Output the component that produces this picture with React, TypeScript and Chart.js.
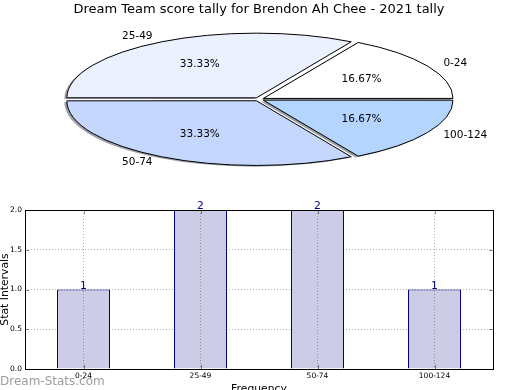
import { useEffect, useRef } from 'react';
import { Chart, registerables } from 'chart.js';

Chart.register(...registerables);

const chartTitle = 'Dream Team score tally for Brendon Ah Chee - 2021 tally';
const categories = ['0-24', '25-49', '50-74', '100-124'];
const counts = [1, 2, 2, 1];
const sliceColors = ['#ffffff', '#ebf1ff', '#c5d7fe', '#b3d5ff'];
const yTickValues = [0, 0.5, 1, 1.5, 2];
const xAxisTitle = 'Frequency';
const yAxisTitle = 'Stat Intervals';
const watermark = 'Dream-Stats.com';

const FONT = "'DejaVu Sans', sans-serif";

// pie drawn as squashed ellipse (matplotlib non-equal aspect)
const PIE_K = 0.341;
const PIE_CY = 99.3;
const PIE_R = 189;
const PIE_OFFSET = 20; // chart.js moves arcs by offset/4
const SHADOW_DX = -2.5;
const SHADOW_DY = 1.3;

// matplotlib draws counter-clockwise from east; chart.js clockwise -> reverse order
const pieLabels = [...categories].reverse();
const pieValues = [...counts].reverse();
const pieColors = [...sliceColors].reverse();

const pieSquash = {
  id: 'pieSquash',
  beforeDatasetsDraw(chart: any) {
    const ctx = chart.ctx;
    const arcs = chart.getDatasetMeta(0).data;
    if (!arcs.length) return;
    const cy0 = arcs[0].y;
    const base = ctx.getTransform();
    const origStroke = CanvasRenderingContext2D.prototype.stroke;
    // shadow pass
    ctx.save();
    ctx.translate(SHADOW_DX, SHADOW_DY);
    ctx.translate(0, PIE_CY);
    ctx.scale(1, PIE_K);
    ctx.translate(0, -cy0);
    ctx.filter = 'brightness(0.3)';
    ctx.globalAlpha = 0.5;
    ctx.stroke = () => {};
    arcs.forEach((a: any) => a.draw(ctx));
    delete ctx.stroke;
    ctx.restore();
    // main pass
    ctx.save();
    ctx.translate(0, PIE_CY);
    ctx.scale(1, PIE_K);
    ctx.translate(0, -cy0);
    ctx.stroke = function (...args: any[]) {
      this.save();
      this.setTransform(base);
      this.shadowColor = 'rgba(0,0,0,0)';
      origStroke.apply(this, args as any);
      this.restore();
    };
  },
  afterDatasetsDraw(chart: any) {
    const ctx = chart.ctx;
    const arcs = chart.getDatasetMeta(0).data;
    if (!arcs.length) return;
    delete ctx.stroke;
    ctx.restore();
    const cy0 = arcs[0].y;
    const total = pieValues.reduce((s, v) => s + v, 0);
    const mapY = (y: number) => PIE_CY + (y - cy0) * PIE_K;
    ctx.save();
    ctx.fillStyle = '#000';
    ctx.font = `10.5px ${FONT}`;
    ctx.textBaseline = 'middle';
    arcs.forEach((a: any, i: number) => {
      const mid = (a.startAngle + a.endAngle) / 2;
      const off = (a.options.offset || 0) / 4;
      const R = a.outerRadius;
      const ex = a.x + Math.cos(mid) * off;
      const ey = a.y + Math.sin(mid) * off;
      // category label
      const lx = ex + Math.cos(mid) * R * 1.1;
      const ly = ey + Math.sin(mid) * R * 1.1;
      ctx.textAlign = Math.cos(mid) > 0 ? 'left' : 'right';
      ctx.fillText(pieLabels[i], lx, mapY(ly));
      // percentage
      const px = ex + Math.cos(mid) * R * 0.6;
      const py = ey + Math.sin(mid) * R * 0.6;
      ctx.textAlign = 'center';
      ctx.fillText(((pieValues[i] / total) * 100).toFixed(2) + '%', px, mapY(py));
    });
    ctx.restore();
  },
};

const barExtras = {
  id: 'barExtras',
  beforeDraw(chart: any) {
    const ctx = chart.ctx;
    ctx.save();
    ctx.font = `12px ${FONT}`;
    ctx.fillStyle = 'rgba(140,140,140,0.85)';
    ctx.textAlign = 'left';
    ctx.textBaseline = 'alphabetic';
    ctx.fillText(watermark, 0, 195);
    ctx.restore();
  },
  afterDatasetsDraw(chart: any) {
    const ctx = chart.ctx;
    const meta = chart.getDatasetMeta(0);
    ctx.save();
    ctx.font = `10.8px ${FONT}`;
    ctx.fillStyle = '#000080';
    ctx.textAlign = 'center';
    ctx.textBaseline = 'alphabetic';
    meta.data.forEach((bar: any, i: number) => {
      ctx.fillText(String(counts[i]), bar.x, bar.y - 1);
    });
    ctx.restore();
  },
  afterDraw(chart: any) {
    const ctx = chart.ctx;
    const { left, right, top, bottom } = chart.chartArea;
    const xs = chart.scales.x;
    const ys = chart.scales.y;
    ctx.save();
    // inward tick marks
    ctx.strokeStyle = 'rgba(0,0,0,0.45)';
    ctx.lineWidth = 1;
    ctx.beginPath();
    ys.ticks.forEach((t: any) => {
      const y = Math.round(ys.getPixelForValue(t.value)) + 0.5;
      ctx.moveTo(left, y);
      ctx.lineTo(left + 4, y);
      ctx.moveTo(right - 4, y);
      ctx.lineTo(right, y);
    });
    xs.ticks.forEach((_t: any, i: number) => {
      const x = Math.round(xs.getPixelForTick(i)) + 0.5;
      ctx.moveTo(x, bottom);
      ctx.lineTo(x, bottom - 4);
      ctx.moveTo(x, top);
      ctx.lineTo(x, top + 4);
    });
    ctx.stroke();
    // frame
    ctx.strokeStyle = '#000';
    ctx.strokeRect(left + 0.5, top + 0.5, right - left, bottom - top);
    // axis titles
    ctx.fillStyle = '#000';
    ctx.font = `10.8px ${FONT}`;
    ctx.textAlign = 'center';
    ctx.textBaseline = 'alphabetic';
    ctx.fillText(xAxisTitle, (left + right) / 2, 202);
    ctx.translate(8.3, (top + bottom) / 2);
    ctx.rotate(-Math.PI / 2);
    ctx.fillText(yAxisTitle, 0, 0);
    ctx.restore();
  },
};

export default function App() {
  const pieRef = useRef<HTMLCanvasElement>(null);
  const barRef = useRef<HTMLCanvasElement>(null);

  useEffect(() => {
    Chart.defaults.font.family = FONT;
    Chart.defaults.color = '#000';
    const pie = new Chart(pieRef.current as HTMLCanvasElement, {
      type: 'pie',
      data: {
        labels: pieLabels,
        datasets: [
          {
            data: pieValues,
            backgroundColor: pieColors,
            borderColor: '#000',
            borderWidth: 1,
            offset: PIE_OFFSET,
            clip: false,
            rotation: 90,
            radius: PIE_R,
          } as any,
        ],
      },
      options: {
        animation: false,
        responsive: false,
        events: [],
        rotation: 90,
        radius: PIE_R,
        layout: { padding: { left: 0, right: 2, top: 0, bottom: 0 } },
        plugins: {
          legend: { display: false },
          tooltip: { enabled: false },
          title: {
            display: true,
            text: chartTitle,
            color: '#000',
            font: { family: FONT, size: 13, weight: 'normal' },
            padding: { top: 2, bottom: 0 },
          },
        },
      } as any,
      plugins: [pieSquash],
    });

    const bar = new Chart(barRef.current as HTMLCanvasElement, {
      type: 'bar',
      data: {
        labels: categories,
        datasets: [
          {
            data: counts,
            backgroundColor: '#ccccE6',
            borderColor: '#000080',
            borderWidth: 1,
            barPercentage: 53 / 117,
            categoryPercentage: 1,
          },
        ],
      },
      options: {
        animation: false,
        responsive: false,
        events: [],
        layout: { padding: { top: 20, right: 27, left: 0, bottom: 0 } },
        plugins: { legend: { display: false }, tooltip: { enabled: false } },
        scales: {
          x: {
            offset: true,
            grid: { offset: false, color: 'rgba(0,0,0,0.3)', drawTicks: false, z: 1 },
            border: { display: false, dash: [1, 2] },
            ticks: { font: { size: 7.5 }, color: '#000', padding: 3, maxRotation: 0, autoSkip: false },
            afterFit: (s: any) => {
              s.height = 21;
            },
          },
          y: {
            min: yTickValues[0],
            max: yTickValues[yTickValues.length - 1],
            afterBuildTicks: (s: any) => {
              s.ticks = yTickValues.map((v) => ({ value: v }));
            },
            grid: { color: 'rgba(0,0,0,0.3)', drawTicks: false },
            border: { display: false, dash: [1, 2] },
            ticks: {
              font: { size: 7.5 },
              color: '#000',
              padding: 3,
              callback: (v: any) => Number(v).toFixed(1),
            },
            afterFit: (s: any) => {
              s.width = 25;
            },
          },
        },
      } as any,
      plugins: [barExtras],
    });

    return () => {
      pie.destroy();
      bar.destroy();
    };
  }, []);

  return (
    <div style={{ position: 'absolute', left: 0, top: 0, width: 520, height: 390, background: '#fff', overflow: 'hidden' }}>
      <canvas ref={pieRef} width={520} height={190} style={{ position: 'absolute', left: 0, top: 0, display: 'block' }} />
      <canvas ref={barRef} width={520} height={200} style={{ position: 'absolute', left: 0, top: 190, display: 'block' }} />
    </div>
  );
}
